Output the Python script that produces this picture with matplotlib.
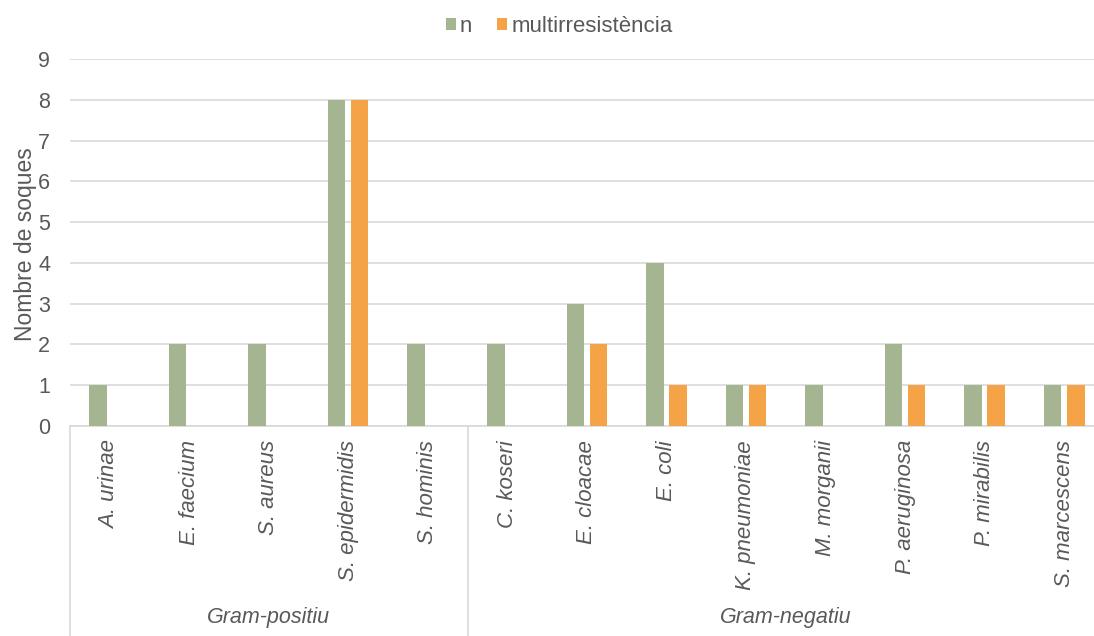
import matplotlib
matplotlib.use("Agg")
import matplotlib.pyplot as plt
import numpy as np

plt.rcParams['font.family'] = ['Liberation Sans', 'DejaVu Sans']

categories = ["A. urinae", "E. faecium", "S. aureus", "S. epidermidis", "S. hominis",
              "C. koseri", "E. cloacae", "E. coli", "K. pneumoniae", "M. morganii",
              "P. aeruginosa", "P. mirabilis", "S. marcescens"]
n_values = [1, 2, 2, 8, 2, 2, 3, 4, 1, 1, 2, 1, 1]
multi_values = [0, 0, 0, 8, 0, 0, 2, 1, 1, 0, 1, 1, 1]
groups = ["Gram-positiu", "Gram-negatiu"]
group_sizes = [5, 8]
series_names = ["n", "multirresistència"]
yticks = list(range(0, 10))

green = "#A5B592"
orange = "#F4A346"
text_col = "#595959"
grid_col = "#D9D9D9"

W, H = 1094, 636
fig = plt.figure(figsize=(W / 100, H / 100), dpi=100)
ax_left, ax_right = 69.7, 1104
ax_bottom, ax_top = 426, 59
ax = fig.add_axes([ax_left / W, 1 - ax_bottom / H, (ax_right - ax_left) / W, (ax_bottom - ax_top) / H])

x = np.arange(len(categories))
bw = 0.22
off = 0.145
b1 = ax.bar(x - off, n_values, width=bw, color=green, label=series_names[0], zorder=3)
b2 = ax.bar(x + off, multi_values, width=bw, color=orange, label=series_names[1], zorder=3)

ax.set_xlim(-0.5, len(categories) - 0.5)
ax.set_ylim(0, 9)
ax.set_yticks(yticks)
ax.yaxis.grid(True, color=grid_col, linewidth=1.2, zorder=0)
ax.set_axisbelow(True)
for s in ["top", "right", "left"]:
    ax.spines[s].set_visible(False)
ax.spines["bottom"].set_color(grid_col)
ax.spines["bottom"].set_linewidth(1.2)
ax.tick_params(axis="y", length=0, labelsize=15.5, labelcolor=text_col, pad=14)
ax.tick_params(axis="x", length=0, labelsize=16, labelcolor=text_col, pad=10)
ax.set_xticks(x)
ax.set_xticklabels(categories, rotation=90, style="italic", va="top", ha="center")
ax.set_ylabel("Nombre de soques", fontsize=16.5, color=text_col)
ax.yaxis.set_label_coords((37 - ax_left) / (ax_right - ax_left), 0.495)

# group separators and labels
trans = ax.get_xaxis_transform()
ybot = -(636 - 426) / (426 - 59)
ylab = -(618 - 426) / (426 - 59)
start = 0
bounds = [-0.5]
for g, size in zip(groups, group_sizes):
    end = start + size
    bounds.append(end - 0.5)
    ax.text((start + end - 1) / 2, ylab, g, transform=trans, ha="center", va="center",
            fontsize=15.5, style="italic", color=text_col)
    start = end
for b in bounds:
    ax.plot([b, b], [0, ybot], transform=trans, color=grid_col, linewidth=1.2, clip_on=False)

leg = fig.legend(handles=[b1, b2], labels=series_names, loc="center", bbox_to_anchor=(559 / W, 1 - 26 / H),
                 ncol=2, frameon=False, fontsize=16, handlelength=0.45, handleheight=0.45,
                 handletextpad=0.2, columnspacing=1.1, labelcolor=text_col)

fig.savefig("out.png", dpi=100)
